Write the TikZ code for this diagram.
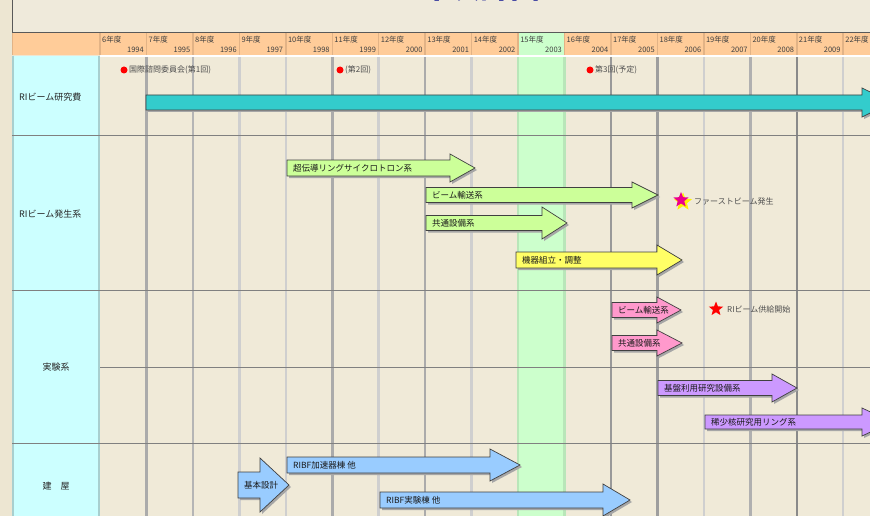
\documentclass[tikz,border=0pt]{standalone}
\usepackage{fontspec}
\setmainfont{Noto Sans CJK JP}
\usetikzlibrary{shapes.geometric}

\definecolor{parch}{HTML}{EDE6D2}
\definecolor{titlebg}{HTML}{EFEADB}
\definecolor{bodybg}{HTML}{F0EAD8}
\definecolor{headorange}{HTML}{FFCC99}
\definecolor{headedge}{HTML}{E2B386}
\definecolor{labelcyan}{HTML}{CCFFFF}
\definecolor{labeledge}{HTML}{A8CFCF}
\definecolor{fyhl}{HTML}{CCFFCC}
\definecolor{fyedge}{HTML}{B9E6B9}
\definecolor{titleblue}{HTML}{2B2F9A}
\definecolor{srcgreen}{HTML}{CCFF99}
\definecolor{adjyellow}{HTML}{FFFF66}
\definecolor{exppink}{HTML}{FF99CC}
\definecolor{ringviolet}{HTML}{CC99FF}
\definecolor{bldblue}{HTML}{99CCFF}
\definecolor{budgetteal}{HTML}{33CCCC}

\tikzset{
  bartext/.style={anchor=west, inner sep=0pt, font=\fontsize{8.5}{9}\selectfont, text=black!90},
  marktext/.style={anchor=west, inner sep=0pt, font=\fontsize{8}{9}\selectfont, text=black!70},
  rowlabel/.style={inner sep=0pt, font=\fontsize{9}{10}\selectfont, text=black!85},
  yeartext/.style={inner sep=0pt, font=\fontsize{7.5}{8}\selectfont, text=black!75},
}

% fat arrow of the chart: name, colour, x start, x head, x tip, y centre, body half, head half, text
\newcommand{\ganttarrow}[9]{%
  \fill[black!35,shift={(2,2)}] (#3,#6-#7) -- (#4,#6-#7) -- (#4,#6-#8) -- (#5,#6) -- (#4,#6+#8) -- (#4,#6+#7) -- (#3,#6+#7) -- cycle;%
  \filldraw[fill=#2,draw=black!75,line width=0.7pt] (#3,#6-#7) -- (#4,#6-#7) -- (#4,#6-#8) -- (#5,#6) -- (#4,#6+#8) -- (#4,#6+#7) -- (#3,#6+#7) -- cycle;%
  \node[bartext] (#1) at (#3+6,#6) {#9};%
}

\begin{document}
\begin{tikzpicture}[x=1pt,y=-1pt]
                \useasboundingbox (0,0) rectangle (870,516);
                \clip (0,0) rectangle (870,516);

                % Drawing background and title box
                \fill[parch] (0,0) rectangle (870,516);%
                \fill[titlebg] (12,0) rectangle (870,32);%
                \node[anchor=base, inner sep=0pt, text=titleblue, font=\fontsize{30}{30}\selectfont\bfseries] (title) at (445,-1.5) {RIBF年次計画};%
                \draw[black!65, line width=0.8pt] (12,0) -- (12,32) -- (870,32);%

                % Drawing header row
                \fill[headorange] (12,33) rectangle (870,55);%
                \fill[fyhl] (518,33) rectangle (565,55);%

                % Drawing body and label column
                \fill[bodybg] (100,56) rectangle (870,516);%
                \fill[fyhl] (518,56) rectangle (565,516);%
                \fill[labelcyan] (12,56) rectangle (100,516);%
                \draw[labeledge, line width=2pt] (13,56) -- (13,516);%
                \draw[labeledge, line width=2pt] (99,56) -- (99,516);%
                \draw[headedge, line width=1.5pt] (12.5,33) -- (12.5,55);%
                \draw[white, line width=1.2pt] (100,56) -- (870,56);%

                % Marking fiscal years
                \foreach \n [count=\i from 0] in {6,...,22} {
                  \pgfmathtruncatemacro{\yr}{1994+\i}
                  \draw[headedge, line width=1.5pt] (100+46.45*\i,33) -- (100+46.45*\i,55);
                  \node[yeartext, anchor=west] (fy\n) at (102+46.45*\i,39.5) {\n 年度};
                  \node[yeartext, anchor=east] (yr\n) at (144+46.45*\i,50) {\yr};
                }

                % Drawing year grid lines
                \foreach \i/\c in {1/black!33, 2/black!29, 3/black!19, 4/black!19, 5/black!33, 6/black!19, 7/black!33, 8/black!19, 9/fyedge, 10/fyedge, 11/black!40, 12/black!38, 13/black!19, 14/black!31, 15/black!46, 16/black!19}
                  \draw[\c, line width=2.5pt] (100+46.45*\i,57) -- (100+46.45*\i,516);%

                % Drawing row lines
                \draw[black!50, line width=0.8pt] (12,135) -- (870,135);%
                \draw[black!50, line width=0.8pt] (12,290) -- (870,290);%
                \draw[black!50, line width=0.8pt] (100,367) -- (870,367);%
                \draw[black!50, line width=0.8pt] (12,443) -- (870,443);%

                % Marking row labels
                \node[rowlabel, anchor=west] (lblbudget) at (19,97) {RIビーム研究費};%
                \node[rowlabel, anchor=west] (lblbeam) at (19,214) {RIビーム発生系};%
                \node[rowlabel] (lblexp) at (56,367) {実験系};%
                \node[rowlabel] (lblbld) at (56,486) {建\quad 屋};%

                % Marking advisory committee meetings
                \fill[red] (124,70) circle (3.5);%
                \node[marktext] (iac1) at (129,70) {国際諮問委員会(第1回)};%
                \fill[red] (340,70) circle (3.5);%
                \node[marktext] (iac2) at (345,70) {(第2回)};%
                \fill[red] (590,70) circle (3.5);%
                \node[marktext] (iac3) at (595,70) {第3回(予定)};%

                % Drawing budget bar
                \fill[black!35,shift={(2,2)}] (146,95) -- (862,95) -- (862,88) -- (892,102.5) -- (862,117) -- (862,110) -- (146,110) -- cycle;%
                \filldraw[fill=budgetteal, draw=black!75, line width=0.7pt] (146,95) -- (862,95) -- (862,88) -- (892,102.5) -- (862,117) -- (862,110) -- (146,110) -- cycle;%

                % Drawing beam generation arrows
                \ganttarrow{src}{srcgreen}{287}{450}{475}{168}{8}{14}{超伝導リングサイクロトロン系}%
                \ganttarrow{btrans}{srcgreen}{426}{632}{658}{195}{7.5}{13}{ビーム輸送系}%
                \ganttarrow{common}{srcgreen}{426}{542}{567}{223}{7.5}{16}{共通設備系}%
                \ganttarrow{adjust}{adjyellow}{516}{657}{682}{260}{8}{15}{機器組立・調整}%

                % Marking first beam
                \node[star, star points=5, star point ratio=2.3, fill=yellow, minimum size=19pt, inner sep=0pt] (fbglow) at (683,202) {};%
                \node[star, star points=5, star point ratio=2.3, fill=magenta, minimum size=16pt, inner sep=0pt] (fbstar) at (681,200) {};%
                \node[marktext] (fbtext) at (694,201) {ファーストビーム発生};%

                % Drawing experiment arrows
                \ganttarrow{exptrans}{exppink}{612}{657}{681}{310}{7.5}{13}{ビーム輸送系}%
                \ganttarrow{expcommon}{exppink}{612}{657}{682}{343}{7.5}{13}{共通設備系}%
                \node[star, star points=5, star point ratio=2.3, fill=red, minimum size=15pt, inner sep=0pt] (ristar) at (716,309) {};%
                \node[marktext] (ritext) at (727,309) {RIビーム供給開始};%
                \ganttarrow{basic}{ringviolet}{658}{772}{797}{388}{7.5}{14}{基盤利用研究設備系}%
                \ganttarrow{ring}{ringviolet}{705}{862}{892}{422}{7}{14}{稀少核研究用リング系}%

                % Drawing building arrows
                \ganttarrow{design}{bldblue}{238}{260}{289}{485}{13}{27}{基本設計}%
                \ganttarrow{accbld}{bldblue}{287}{490}{520}{465}{8}{16}{RIBF加速器棟\ 他}%
                \ganttarrow{expbld}{bldblue}{380}{603}{630}{500}{8}{16}{RIBF実験棟\ 他}%
\end{tikzpicture}
\end{document}
